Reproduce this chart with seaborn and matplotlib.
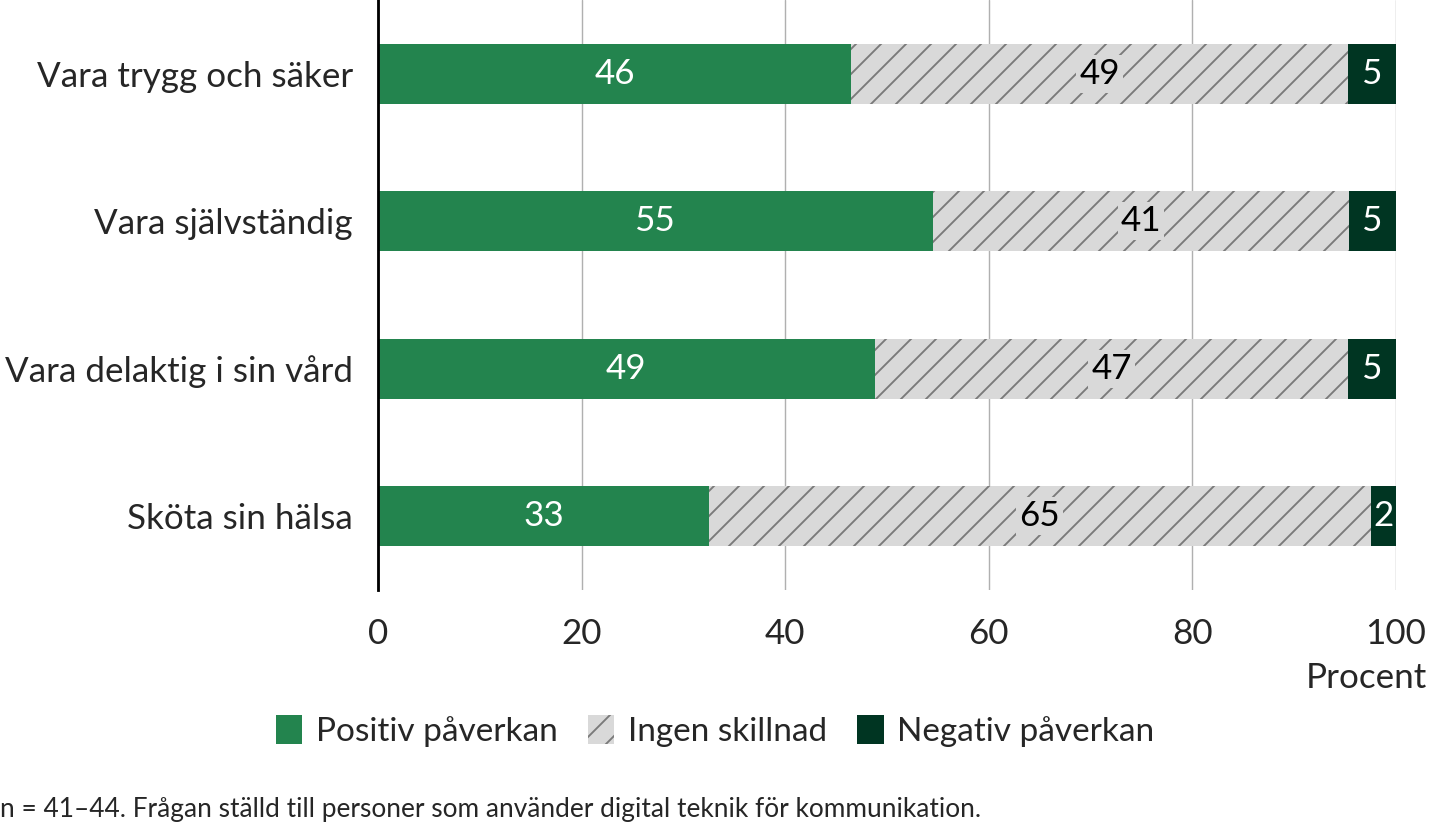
import pandas as pd
import matplotlib.pyplot as plt
import seaborn as sns
from matplotlib.patches import Patch

categories = ['Vara trygg och säker', 'Vara självständig', 'Vara delaktig i sin vård', 'Sköta sin hälsa']
positiv = [46.5, 54.5, 48.8, 32.5]
ingen = [48.8, 40.9, 46.5, 65.0]
negativ = [4.7, 4.6, 4.7, 2.5]
positiv_lbl = [46, 55, 49, 33]
ingen_lbl = [49, 41, 47, 65]
negativ_lbl = [5, 5, 5, 2]
series_names = ['Positiv påverkan', 'Ingen skillnad', 'Negativ påverkan']
xticks = [0, 20, 40, 60, 80, 100]

green = '#23844e'
gray = '#d9d9d9'
dark = '#003522'
hatch_col = '#7a7a7a'

df = pd.DataFrame({'kategori': categories, 'pos': positiv, 'ingen': ingen, 'neg': negativ})
df['c1'] = df['pos']
df['c2'] = df['pos'] + df['ingen']
df['c3'] = df['c2'] + df['neg']

# dpi chosen so that the hatch spacing matches the original
DPI = 225
sns.set_style('white')
plt.rcParams['font.family'] = ['Lato', 'DejaVu Sans']
plt.rcParams['hatch.linewidth'] = 0.6
fs = 11.2

fig = plt.figure(figsize=(1430 / DPI, 828 / DPI), dpi=DPI)
ax = fig.add_axes([378 / 1430, 1 - 590 / 828, (1396 - 378) / 1430, 590 / 828])

bw = 0.41
sns.barplot(data=df, x='c3', y='kategori', orient='h', color=dark, width=bw,
            saturation=1, linewidth=0, ax=ax)
sns.barplot(data=df, x='c2', y='kategori', orient='h', color=gray, width=bw,
            saturation=1, linewidth=0, edgecolor=hatch_col, hatch='///', ax=ax)
sns.barplot(data=df, x='c1', y='kategori', orient='h', color=green, width=bw,
            saturation=1, linewidth=0, ax=ax)

for i, row in df.iterrows():
    ax.text(row['pos'] / 2, i, str(positiv_lbl[i]), ha='center', va='center',
            color='white', fontsize=fs)
    ax.text(row['c1'] + row['ingen'] / 2, i, str(ingen_lbl[i]), ha='center', va='center',
            color='black', fontsize=fs,
            bbox=dict(facecolor=gray, edgecolor='none', pad=1.0))
    ax.text(row['c2'] + row['neg'] / 2, i, str(negativ_lbl[i]), ha='center', va='center',
            color='white', fontsize=fs)

ax.set_xlim(0, 100)
ax.set_ylim(3.5, -0.5)
ax.set_xticks(xticks)
ax.set_xticklabels([str(t) for t in xticks])
ax.set_xlabel('')
ax.set_ylabel('')
ax.tick_params(axis='both', length=0, labelsize=fs)
ax.tick_params(axis='y', pad=8)
ax.tick_params(axis='x', pad=9)
ax.grid(axis='x', color='#b0b0b0', linewidth=0.45)
ax.grid(axis='y', visible=False)
ax.set_axisbelow(True)
for s in ['top', 'right', 'bottom']:
    ax.spines[s].set_visible(False)
ax.spines['left'].set_color('black')
ax.spines['left'].set_linewidth(0.9)
ax.spines['left'].set_zorder(5)

fig.text(0.998, 1 - 678 / 828, 'Procent', ha='right', va='center', fontsize=fs)

handles = [Patch(facecolor=green, edgecolor='none'),
           Patch(facecolor=gray, edgecolor=hatch_col, hatch='///', linewidth=0),
           Patch(facecolor=dark, edgecolor='none')]
fig.legend(handles, series_names, loc='center', bbox_to_anchor=(0.5, 1 - 731 / 828),
           ncol=3, frameon=False, fontsize=10.7, handlelength=0.8, handleheight=0.95,
           handletextpad=0.4, columnspacing=0.9)

fig.text(0.0, 1 - 810 / 828,
         'n = 41–44. Frågan ställd till personer som använder digital teknik för kommunikation.',
         ha='left', va='center', fontsize=8.4)

fig.savefig('out.png', dpi=DPI)
